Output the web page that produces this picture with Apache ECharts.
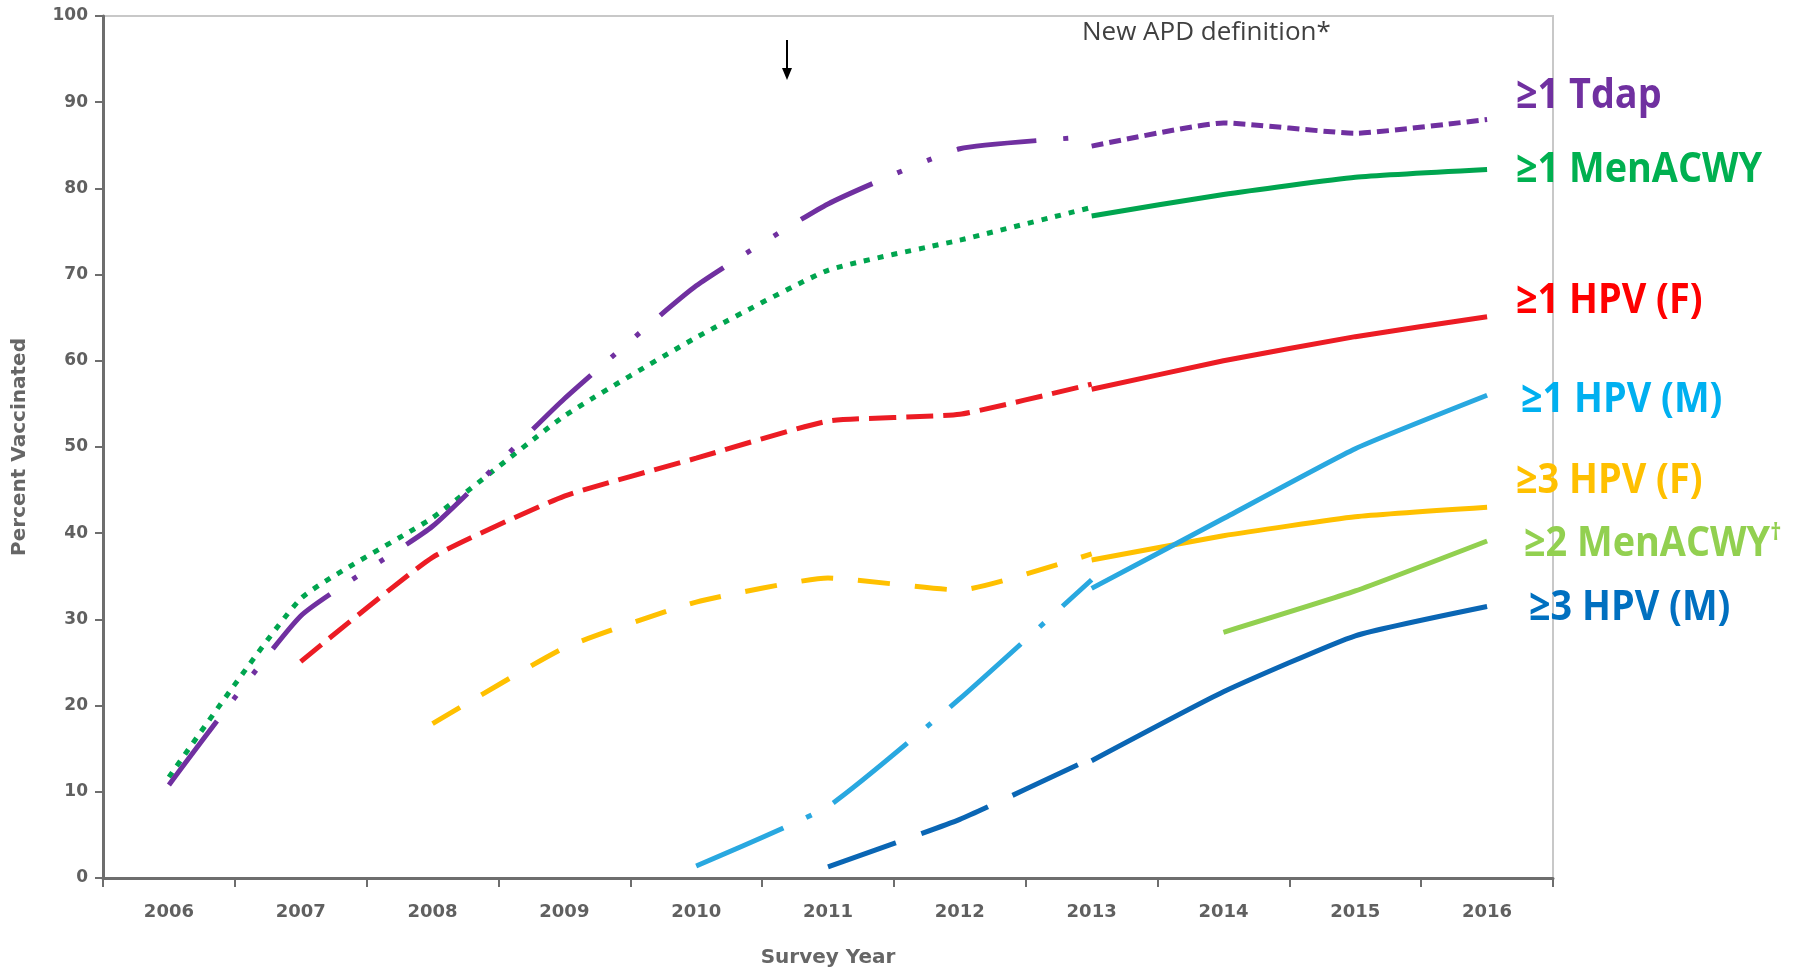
<!DOCTYPE html>
<html>
<head>
<meta charset="utf-8">
<script src="https://cdn.jsdelivr.net/npm/echarts@6/dist/echarts.min.js"></script>
<style>
html,body{margin:0;padding:0;background:#fff;}
#chart{width:1793px;height:969px;}
</style>
</head>
<body>
<div id="chart"></div>
<script>
// ---- data ----
const years = ['2006','2007','2008','2009','2010','2011','2012','2013','2014','2015','2016'];
const yTicks = [0,10,20,30,40,50,60,70,80,90,100];

// old APD definition (2006-2013) and new APD definition (2013-2016)
const tdapOld     = [10.8, 30.4, 40.8, 55.6, 68.7, 78.2, 84.6, 86.0, null, null, null];
const tdapNew     = [null, null, null, null, null, null, null, 84.9, 87.6, 86.4, 88.0];
const menOld      = [11.7, 32.4, 41.8, 53.6, 62.7, 70.5, 74.0, 77.8, null, null, null];
const menNew      = [null, null, null, null, null, null, null, 76.8, 79.3, 81.3, 82.2];
const hpvF1Old    = [null, 25.1, 37.2, 44.3, 48.7, 53.0, 53.8, 57.3, null, null, null];
const hpvF1New    = [null, null, null, null, null, null, null, 56.7, 60.0, 62.8, 65.1];
const hpvM1Old    = [null, null, null, null, 1.4, 8.3, 20.8, 34.6, null, null, null];
const hpvM1New    = [null, null, null, null, null, null, null, 33.6, 41.7, 49.8, 56.0];
const hpvF3Old    = [null, null, 17.9, 26.7, 32.0, 34.8, 33.4, 37.6, null, null, null];
const hpvF3New    = [null, null, null, null, null, null, null, 36.9, 39.7, 41.9, 43.0];
const men2New     = [null, null, null, null, null, null, null, null, 28.5, 33.3, 39.1];
const hpvM3Old    = [null, null, null, null, null, 1.3, 6.8, 13.9, null, null, null];
const hpvM3New    = [null, null, null, null, null, null, null, 13.6, 21.6, 28.1, 31.5];

const seriesNames = ['≥1 Tdap','≥1 MenACWY','≥1 HPV (F)','≥1 HPV (M)','≥3 HPV (F)','≥2 MenACWY','≥3 HPV (M)'];
const annotation = 'New APD definition*';
const xName = 'Survey Year';
const yName = 'Percent Vaccinated';

// ---- styles ----
const C = {
  tdap:'#7030A0', men:'#00A54F', hpvF1:'#EC1C24', hpvM1:'#29A8E0',
  hpvF3:'#FFC000', men2:'#92D050', hpvM3:'#0A66B4'
};
const labelColors = ['#7030A0','#00B050','#FF0000','#00B0F0','#FFC000','#92D050','#0070C0'];
const W = 5;

function line(name, data, color, type, z) {
  return {
    name: name, type: 'line', data: data, smooth: 0.15, showSymbol: false,
    connectNulls: false, z: z || 2,
    lineStyle: { color: color, width: W, type: type, cap: 'butt' }
  };
}

const series = [
  line(seriesNames[6], hpvM3Old, C.hpvM3, [72, 27]),
  line(seriesNames[6], hpvM3New, C.hpvM3, 'solid'),
  line(seriesNames[5], men2New, C.men2, 'solid'),
  line(seriesNames[4], hpvF3Old, C.hpvF3, [32, 25]),
  line(seriesNames[4], hpvF3New, C.hpvF3, 'solid'),
  line(seriesNames[3], hpvM1Old, C.hpvM1, [95, 25, 6, 25]),
  line(seriesNames[3], hpvM1New, C.hpvM1, 'solid'),
  line(seriesNames[2], hpvF1Old, C.hpvF1, [27, 10]),
  line(seriesNames[2], hpvF1New, C.hpvF1, 'solid'),
  line(seriesNames[1], menOld, C.men, [6, 8]),
  line(seriesNames[1], menNew, C.men, 'solid'),
  line(seriesNames[0], tdapOld, C.tdap, [80, 27, 5, 27, 5, 27]),
  line(seriesNames[0], tdapNew, C.tdap, [12, 6])
];

const labelFont = "'Open Sans', 'Noto Sans', sans-serif";
const labelPos = [
  [1516, 96], [1516, 170], [1516, 301], [1521, 400], [1516, 481], [1524, 544], [1529, 608]
];
const graphics = seriesNames.map(function (t, i) {
  if (i === 5) {
    return {
      type: 'text', x: labelPos[i][0], y: labelPos[i][1], z: 10, scaleX: 0.9,
      style: {
        text: '{a|' + t + '}{b|†}', verticalAlign: 'middle', align: 'left',
        rich: {
          a: { fontFamily: labelFont, fontWeight: 'bold', fontSize: 42, fill: labelColors[i], color: labelColors[i] },
          b: { fontFamily: labelFont, fontWeight: 'bold', fontSize: 24, fill: labelColors[i], color: labelColors[i], verticalAlign: 'top', padding: [0,0,22,0] }
        }
      }
    };
  }
  return {
    type: 'text', x: labelPos[i][0], y: labelPos[i][1], z: 10, scaleX: 0.9,
    style: {
      text: t, fontFamily: labelFont, fontWeight: 'bold', fontSize: 42,
      fill: labelColors[i], verticalAlign: 'middle', align: 'left'
    }
  };
});
graphics.push({
  type: 'text', x: 1082, y: 33, z: 10,
  style: { text: annotation, fontFamily: "'Open Sans', sans-serif", fontSize: 26, fill: '#404040', verticalAlign: 'middle', align: 'left' }
});
graphics.push({
  type: 'line', z: 10,
  shape: { x1: 787, y1: 40, x2: 787, y2: 72 },
  style: { stroke: '#000', lineWidth: 2 }
});
graphics.push({
  type: 'polygon', z: 10,
  shape: { points: [[782, 68], [792, 68], [787, 80]] },
  style: { fill: '#000' }
});

const chart = echarts.init(document.getElementById('chart'));
chart.setOption({
  animation: false,
  backgroundColor: '#fff',
  grid: { left: 103, right: 240, top: 16, bottom: 91, containLabel: false, outerBoundsMode: 'none',
          show: true, borderColor: '#c8c8c8', borderWidth: 2, backgroundColor: 'transparent' },
  xAxis: {
    type: 'category', data: years, boundaryGap: true,
    name: xName, nameLocation: 'middle', nameGap: 70,
    nameTextStyle: { fontFamily: "'DejaVu Sans', sans-serif", fontWeight: 'bold', fontSize: 20, color: '#666' },
    axisLine: { lineStyle: { color: '#6e6e6e', width: 3 } },
    axisTick: { show: true, length: 9, lineStyle: { color: '#6e6e6e', width: 2 } },
    axisLabel: { margin: 25, fontFamily: "'DejaVu Sans', sans-serif", fontWeight: 'bold', fontSize: 18, color: '#606060' },
    splitLine: { show: false }
  },
  yAxis: {
    type: 'value', min: yTicks[0], max: yTicks[yTicks.length - 1], interval: 10,
    name: yName, nameLocation: 'middle', nameGap: 73, nameRotate: 90,
    nameTextStyle: { fontFamily: "'DejaVu Sans', sans-serif", fontWeight: 'bold', fontSize: 20, color: '#666' },
    axisLine: { show: true, lineStyle: { color: '#6e6e6e', width: 3 } },
    axisTick: { show: true, length: 8, lineStyle: { color: '#6e6e6e', width: 2 } },
    axisLabel: { margin: 15, fontFamily: "'DejaVu Sans', sans-serif", fontWeight: 'bold', fontSize: 17, color: '#606060' },
    splitLine: { show: false }
  },
  series: series,
  graphic: graphics
});
</script>
</body>
</html>
